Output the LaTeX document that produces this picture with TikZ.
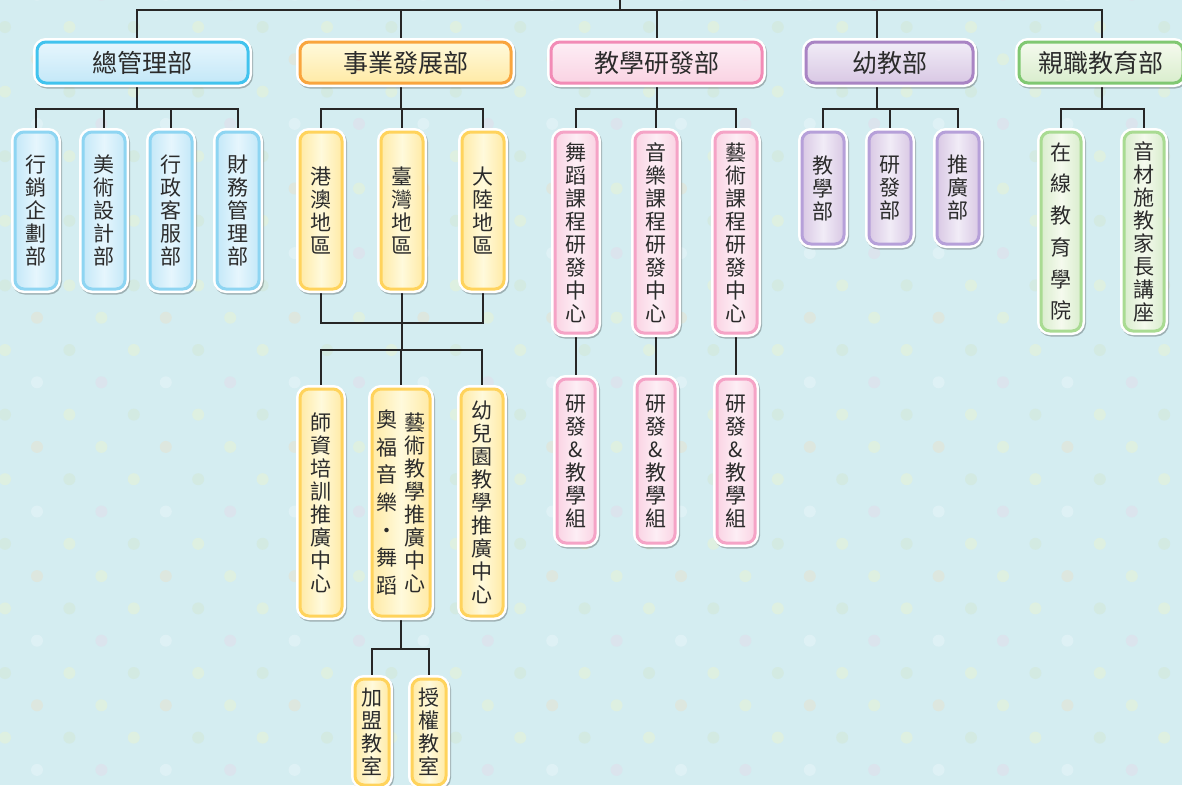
\documentclass[tikz,border=0pt]{standalone}
\usepackage{fontspec}
\setmainfont{Noto Sans CJK TC}

\definecolor{bgblue}{HTML}{D4EDF1}
\definecolor{ink}{HTML}{2B2B2B}
\definecolor{linegray}{HTML}{262626}
\definecolor{dotyellow}{HTML}{E4F1D8}
\definecolor{dotgreen}{HTML}{D2E9DA}
\definecolor{dotwhite}{HTML}{E3F3F7}
\definecolor{dotpink}{HTML}{DFDFEB}
\definecolor{dotbeige}{HTML}{E2E3D5}
\colorlet{dot00}{dotyellow!65!bgblue}
\colorlet{dot01}{dotgreen!65!bgblue}
\colorlet{dot10}{dotwhite!65!bgblue}
\colorlet{dot11}{dotpink!65!bgblue}
\colorlet{dot20}{dotgreen!65!bgblue}
\colorlet{dot21}{dotyellow!65!bgblue}
\colorlet{dot30}{dotbeige!65!bgblue}
\colorlet{dot31}{dotyellow!65!bgblue}

\definecolor{blueline}{HTML}{41C3EE}
\definecolor{blueleafline}{HTML}{8ED5F2}
\definecolor{bluefill}{HTML}{C4E8F8}
\definecolor{bluelt}{HTML}{E6F6FD}
\definecolor{orangeline}{HTML}{F9A53E}
\definecolor{orangeleafline}{HTML}{FFD35C}
\definecolor{orangefill}{HTML}{FFEAA6}
\definecolor{orangelt}{HTML}{FFFADC}
\definecolor{pinkline}{HTML}{F28BB6}
\definecolor{pinkleafline}{HTML}{F5A3C6}
\definecolor{pinkfill}{HTML}{FAD3E3}
\definecolor{pinklt}{HTML}{FDEEF5}
\definecolor{purpleline}{HTML}{A984C4}
\definecolor{purpleleafline}{HTML}{B6A0D9}
\definecolor{purplefill}{HTML}{D9C8E4}
\definecolor{purplelt}{HTML}{F1ECF7}
\definecolor{greenline}{HTML}{80C872}
\definecolor{greenleafline}{HTML}{A9DB92}
\definecolor{greenfill}{HTML}{D9EDCD}
\definecolor{greenlt}{HTML}{F5FAEE}

\pgfdeclarelayer{bg}
\pgfdeclarelayer{lines}
\pgfsetlayers{bg,lines,main}

\tikzset{
  vtext/.style={align=center, inner sep=0pt, text=ink, font=\fontsize{21}{23}\selectfont},
  card/.style={rounded corners=9pt, line width=3pt, inner sep=0pt,
    preaction={draw=black, draw opacity=.25, line width=8pt, transform canvas={shift={(1pt,-1.5pt)}}},
    preaction={draw=white, line width=8pt}},
  headbox/.style n args={3}{card, draw=#1, top color=#2, bottom color=#3,
    minimum height=41pt, text=ink, font=\fontsize{25}{27}\selectfont},
  leafbox/.style n args={3}{card, vtext, draw=#1, left color=#3, right color=#3,
    middle color=#2, minimum width=42pt},
  bluehead/.style={headbox={blueline}{bluelt}{bluefill}},
  blueleaf/.style={leafbox={blueleafline}{bluelt}{bluefill}},
  orangehead/.style={headbox={orangeline}{orangelt}{orangefill}},
  orangeleaf/.style={leafbox={orangeleafline}{orangelt}{orangefill}},
  pinkhead/.style={headbox={pinkline}{pinklt}{pinkfill}},
  pinkleaf/.style={leafbox={pinkleafline}{pinklt}{pinkfill}},
  purplehead/.style={headbox={purpleline}{purplelt}{purplefill}},
  purpleleaf/.style={leafbox={purpleleafline}{purplelt}{purplefill}},
  greenhead/.style={headbox={greenline}{greenlt}{greenfill}},
  greenleaf/.style={leafbox={greenleafline}{greenlt}{greenfill}},
  conn/.style={draw=linegray, line width=1.8pt}
}

\begin{document}
\begin{tikzpicture}[x=1pt,y=-1pt]
  \useasboundingbox (0,0) rectangle (1182,785);

  \begin{pgfonlayer}{bg}
    \fill[bgblue] (0,0) rectangle (1182,785);
    \foreach \r in {0,...,25}{
      \pgfmathtruncatemacro\t{mod(\r+1,4)}
      \pgfmathsetmacro\off{5+32*mod(\t,2)}
      \foreach \c in {0,...,18}{
        \pgfmathtruncatemacro\k{mod(\c,2)}
        \fill[dot\t\k] (\off+64.4*\c,-5.3+32.3*\r) circle (6pt);
      }
    }
  \end{pgfonlayer}

  % heads
  \node[bluehead, minimum width=211pt] (zong) at (142.5,62.5) {總管理部};
  \node[orangehead, minimum width=211pt] (shiye) at (405.5,62.5) {事業發展部};
  \node[pinkhead, minimum width=211pt] (yanfa) at (656.5,62.5) {教學研發部};
  \node[purplehead, minimum width=167pt] (youjiao) at (889.5,62.5) {幼教部};
  \node[greenhead, minimum width=164pt] (qinzhi) at (1101,62.5) {親職教育部};

  % 總管理部
  \node[blueleaf, minimum height=157pt] (a1) at (36,210.5) {行\\銷\\企\\劃\\部};
  \node[blueleaf, minimum height=157pt] (a2) at (104,210.5) {美\\術\\設\\計\\部};
  \node[blueleaf, minimum height=157pt] (a3) at (171,210.5) {行\\政\\客\\服\\部};
  \node[blueleaf, minimum height=157pt] (a4) at (238,210.5) {財\\務\\管\\理\\部};

  % 事業發展部
  \node[orangeleaf, minimum height=157pt] (b1) at (321,210.5) {港\\澳\\地\\區};
  \node[orangeleaf, minimum height=157pt] (b2) at (402,210.5) {臺\\灣\\地\\區};
  \node[orangeleaf, minimum height=157pt] (b3) at (483,210.5) {大\\陸\\地\\區};
  \node[orangeleaf, minimum height=227pt] (b4) at (321,502.5) {師\\資\\培\\訓\\推\\廣\\中\\心};
  \node[orangeleaf, minimum width=58pt, minimum height=227pt] (b5) at (401,502.5) {};
  \node[vtext] (b5r) at ([xshift=14pt]b5.center) {藝\\術\\教\\學\\推\\廣\\中\\心};
  \node[vtext, font=\fontsize{21}{27.7}\selectfont] (b5l) at ([xshift=-14pt]b5.center) {奧\\福\\音\\樂\\・\\舞\\蹈};
  \node[orangeleaf, minimum height=227pt] (b6) at (482,502.5) {幼\\兒\\園\\教\\學\\推\\廣\\中\\心};
  \node[orangeleaf, minimum width=34pt, minimum height=106pt] (c1) at (372,732) {加\\盟\\教\\室};
  \node[orangeleaf, minimum width=34pt, minimum height=106pt] (c2) at (429,732) {授\\權\\教\\室};

  % 教學研發部
  \node[pinkleaf, minimum height=201pt] (p1) at (576,232.5) {舞\\蹈\\課\\程\\研\\發\\中\\心};
  \node[pinkleaf, minimum height=201pt] (p2) at (656,232.5) {音\\樂\\課\\程\\研\\發\\中\\心};
  \node[pinkleaf, minimum height=201pt] (p3) at (736,232.5) {藝\\術\\課\\程\\研\\發\\中\\心};
  \node[pinkleaf, minimum width=38pt, minimum height=164pt] (q1) at (576,461) {研\\發\\\&\\教\\學\\組};
  \node[pinkleaf, minimum width=38pt, minimum height=164pt] (q2) at (656,461) {研\\發\\\&\\教\\學\\組};
  \node[pinkleaf, minimum width=38pt, minimum height=164pt] (q3) at (736,461) {研\\發\\\&\\教\\學\\組};

  % 幼教部
  \node[purpleleaf, minimum height=112pt] (u1) at (823,188) {教\\學\\部};
  \node[purpleleaf, minimum height=112pt] (u2) at (890,188) {研\\發\\部};
  \node[purpleleaf, minimum height=112pt] (u3) at (958,188) {推\\廣\\部};

  % 親職教育部
  \node[greenleaf, minimum width=40pt, minimum height=199pt, font=\fontsize{21}{31.7}\selectfont] (g1) at (1061,231.5) {在\\線\\教\\育\\學\\院};
  \node[greenleaf, minimum width=40pt, minimum height=199pt] (g2) at (1144,231.5) {音\\材\\施\\教\\家\\長\\講\\座};

  \coordinate (rootup) at (620,-2);
  \coordinate (root) at (620,10);
  \coordinate (j1) at (137,109);
  \coordinate (j2) at (401,109);
  \coordinate (j3) at (657,109);
  \coordinate (j4) at (877,109);
  \coordinate (j5) at (1102,109);
  \coordinate (k1) at (402,323);
  \coordinate (k2) at (402,350);
  \coordinate (k3) at (402,649);

  \begin{pgfonlayer}{lines}
    \draw[conn] (rootup) -- (root);
    \foreach \h/\j in {zong/j1,shiye/j2,yanfa/j3,youjiao/j4,qinzhi/j5}{
      \draw[conn] (\h.north -| \j) |- (root);
      \draw[conn] (\h.south -| \j) -- (\j);
    }
    \foreach \n in {a1,a2,a3,a4} \draw[conn] (\n.north) |- (j1);
    \foreach \n in {b1,b2,b3} \draw[conn] (\n.north) |- (j2);
    \foreach \n in {b1,b2,b3} \draw[conn] (\n.south) |- (k1);
    \draw[conn] (k1) -- (k2);
    \foreach \n in {b4,b5,b6} \draw[conn] (\n.north) |- (k2);
    \draw[conn] (b5.south) |- (k3);
    \foreach \n in {c1,c2} \draw[conn] (\n.north) |- (k3);
    \foreach \n in {p1,p2,p3} \draw[conn] (\n.north) |- (j3);
    \foreach \n/\m in {p1/q1,p2/q2,p3/q3} \draw[conn] (\n.south) -- (\m.north);
    \foreach \n in {u1,u2,u3} \draw[conn] (\n.north) |- (j4);
    \foreach \n in {g1,g2} \draw[conn] (\n.north) |- (j5);
  \end{pgfonlayer}
\end{tikzpicture}
\end{document}
